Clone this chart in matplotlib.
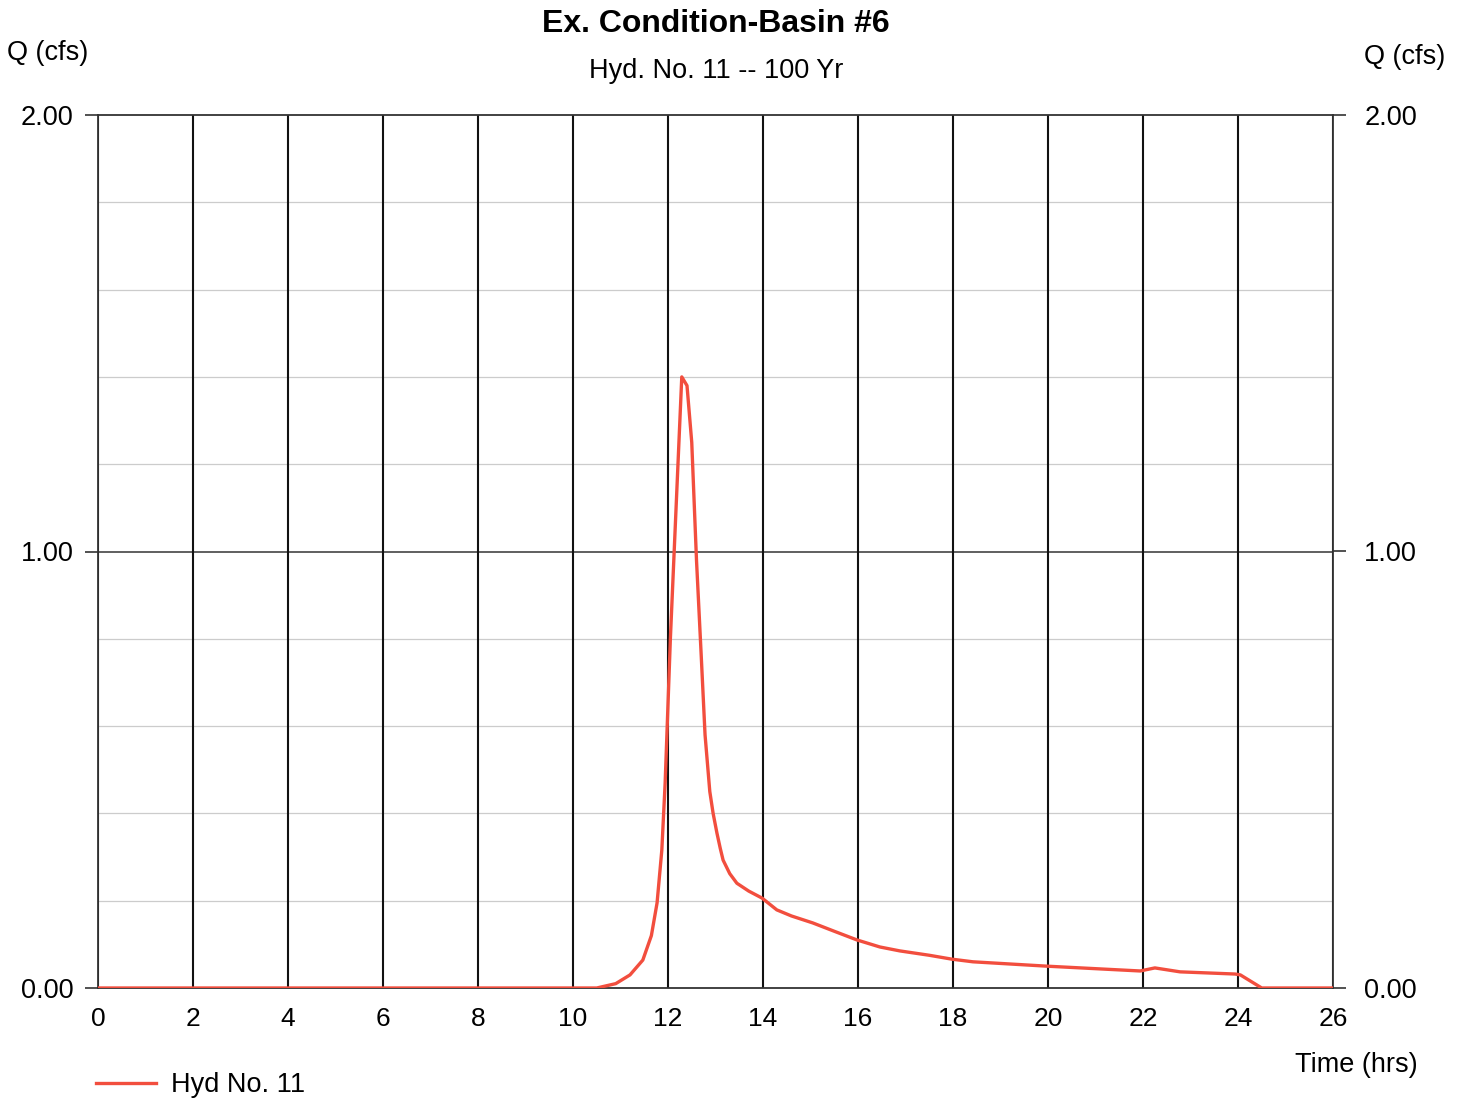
import matplotlib.pyplot as plt

plt.rcParams['font.family'] = ['Liberation Sans', 'DejaVu Sans']

# Hydrograph (hrs, cfs)
time_hrs = [0.0, 10.5, 10.9, 11.2, 11.47, 11.65, 11.77, 11.87, 11.94, 12.05,
            12.29, 12.4, 12.5, 12.6, 12.7, 12.78, 12.88, 12.95, 13.03, 13.1,
            13.16, 13.3, 13.45, 13.7, 13.98, 14.29, 14.6, 15.05, 15.5, 15.98,
            16.46, 16.88, 17.5, 17.98, 18.42, 19.98, 21.94, 22.25, 22.78,
            23.94, 24.05, 24.5, 26.0]
flow_cfs = [0.0, 0.0, 0.01, 0.03, 0.064, 0.12, 0.195, 0.316, 0.47, 0.8,
            1.40, 1.38, 1.25, 0.98, 0.76, 0.58, 0.45, 0.40, 0.355, 0.32,
            0.293, 0.262, 0.24, 0.222, 0.206, 0.179, 0.165, 0.149, 0.13, 0.11,
            0.094, 0.085, 0.075, 0.066, 0.06, 0.05, 0.039, 0.046, 0.037,
            0.032, 0.03, 0.0, 0.0]

x_ticks = list(range(0, 27, 2))
y_major = [0.0, 1.0, 2.0]
y_minor = [0.2, 0.4, 0.6, 0.8, 1.2, 1.4, 1.6, 1.8]

fig = plt.figure(figsize=(14.63, 10.99), dpi=100)
ax = fig.add_axes([98 / 1463, 1 - 988 / 1099, (1333 - 98) / 1463, (988 - 115) / 1099])

ax.set_xlim(0, 26)
ax.set_ylim(0, 2)

# grid
for yv in y_minor:
    ax.axhline(yv, color='#cccccc', lw=0.9, zorder=1)
ax.axhline(1.0, color='#444444', lw=1.2, zorder=1)
for xv in x_ticks:
    ax.axvline(xv, color='#111111', lw=1.5, zorder=1)

ax.plot(time_hrs, flow_cfs, color='#f24e3e', lw=2.4, zorder=3, label='Hyd No. 11')

for s in ax.spines.values():
    s.set_color('#333333')
    s.set_linewidth(1.3)

ax.set_xticks(x_ticks)
ax.set_xticklabels([str(v) for v in x_ticks], fontsize=19)
ax.tick_params(axis='x', length=0, pad=14)
ax.set_yticks(y_major)
ax.set_yticklabels(['%.2f' % v for v in y_major], fontsize=19.5)
ax.tick_params(axis='y', length=9.5, width=1.2, color='#333333', pad=8)

# right-hand scale
ax2 = ax.twinx()
ax2.set_ylim(0, 2)
ax2.set_yticks(y_major)
ax2.set_yticklabels(['%.2f' % v for v in y_major], fontsize=19.5)
ax2.tick_params(axis='y', length=9.5, width=1.2, color='#333333', pad=13)
for s in ax2.spines.values():
    s.set_visible(False)

fig.text(716 / 1463, 1 - 24 / 1099, 'Ex. Condition-Basin #6', fontsize=23,
         fontweight='bold', ha='center', va='center')
fig.text(716 / 1463, 1 - 71 / 1099, 'Hyd. No. 11 -- 100 Yr', fontsize=19.5,
         ha='center', va='center')
fig.text(7 / 1463, 1 - 53 / 1099, 'Q (cfs)', fontsize=19.5, ha='left', va='center')
fig.text(1445 / 1463, 1 - 57 / 1099, 'Q (cfs)', fontsize=19.5, ha='right', va='center')
fig.text(1418 / 1463, 1 - 1065 / 1099, 'Time (hrs)', fontsize=19.5, ha='right', va='center')

ax.legend(loc='center left', bbox_to_anchor=(72 / 1463, 1 - 1085 / 1099),
          bbox_transform=fig.transFigure, frameon=False, fontsize=19.5,
          handlelength=2.2, handletextpad=0.55)

fig.savefig('out.png', dpi=100, facecolor='white')
